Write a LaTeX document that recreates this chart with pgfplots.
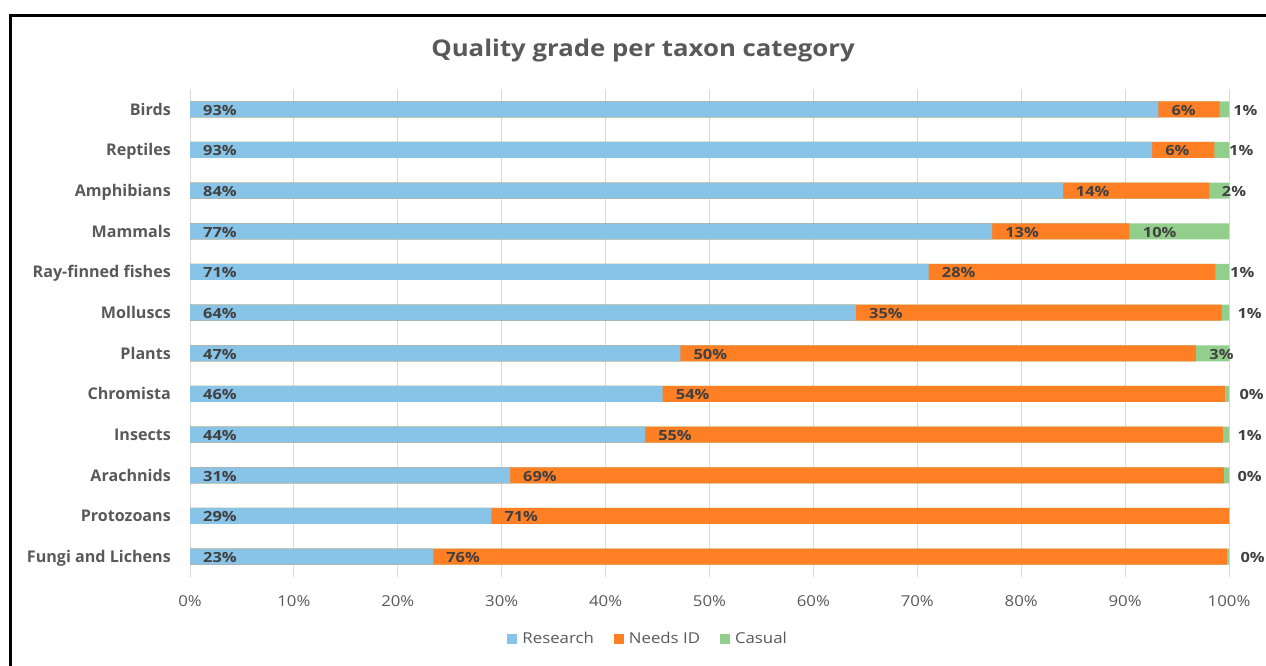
\documentclass[border=0pt]{standalone}
\usepackage{pgfplots}
\pgfplotsset{compat=1.18}
\usepackage{pgfplotstable}
\usepackage{fontspec}
\setmainfont[FakeStretch=1.12]{Open Sans}
\newfontfamily\catfont{Open Sans}
\newfontfamily\lblfont[FakeStretch=1.17]{Open Sans}

\definecolor{resblue}{HTML}{88C3E8}
\definecolor{needorange}{HTML}{FF7F24}
\definecolor{casgreen}{HTML}{93CF8C}
\definecolor{txtgray}{HTML}{595959}
\definecolor{lbldark}{HTML}{404040}
\definecolor{gridgray}{HTML}{D9D9D9}

% y: 11 = Birds (top) ... 0 = Fungi and Lichens (bottom)
% r/n/c = Research / Needs ID / Casual shares in %, rl/nl/cl = printed labels, cx = where the casual label sits
\pgfplotstableread{
y  r    n    c    rl nl cl cx
11 93.2 5.9  0.9  93 6  1  100.4
10 92.6 6.0  1.4  93 6  1  100.0
9  84.0 14.1 1.9  84 14 2  99.3
8  77.2 13.2 9.6  77 13 10 91.7
7  71.1 27.6 1.3  71 28 1  100.1
6  64.1 35.2 0.7  64 35 1  100.8
5  47.2 49.6 3.2  47 50 3  98.1
4  45.5 54.1 0.4  46 54 0  101.0
3  43.8 55.6 0.6  44 55 1  100.8
2  30.8 68.7 0.5  31 69 0  100.8
1  29.0 71.0 0.0  29 71 0  nan
0  23.4 76.4 0.2  23 76 0  101.1
}\quality

\begin{document}
\begin{tikzpicture}
\useasboundingbox (0,0) rectangle (1266pt,666pt);
\draw[line width=3pt, black] (10.5pt,0) -- (10.5pt,650.5pt) -- (1266pt,650.5pt);
\node[anchor=base, font=\fontsize{23}{27}\selectfont\bfseries, text=txtgray] at (643pt,609pt) {Quality grade per taxon category};

\begin{axis}[
	at={(190pt,89pt)}, anchor=south west,
	scale only axis,
	width=1039pt, height=488pt,
	xmin=0, xmax=100, ymin=-0.5, ymax=11.5,
	clip=false,
	axis line style={draw=none},
	major tick length=0pt,
	xtick={0,10,...,100},
	xticklabel={\pgfmathprintnumber{\tick}\%},
	xticklabel style={anchor=base, inner sep=0pt, yshift=-29.5pt, text=txtgray, font=\fontsize{15}{18}\selectfont},
	ytick={0,...,11},
	yticklabels={Fungi and Lichens, Protozoans, Arachnids, Insects, Chromista, Plants, Molluscs, Ray-finned fishes, Mammals, Amphibians, Reptiles, Birds},
	yticklabel style={anchor=base east, inner sep=0pt, xshift=-19pt, yshift=-5.7pt, text=txtgray, font=\catfont\fontsize{16.1}{19}\selectfont\bfseries},
	/pgf/number format/assume math mode=true,
	xmajorgrids, ymajorgrids=false,
	grid style={gridgray, line width=1pt},
	reverse legend,
	legend columns=-1,
	legend style={at={(0.441,-0.127)}, anchor=center, draw=none, fill=none,
		font=\fontsize{15}{18}\selectfont, text=txtgray,
		/tikz/every odd column/.append style={column sep=3pt},
		/tikz/every even column/.append style={column sep=18pt}},
	legend image code/.code={\fill[#1] (0pt,-5pt) rectangle (10pt,5pt);},
	every node near coord/.style={anchor=base west, inner sep=0pt, text=lbldark, font=\lblfont\fontsize{14}{16}\selectfont\bfseries},
]
% overlapping bars drawn from 0: total (green), research+needs (orange), research (blue)
\addplot[xbar, bar width=16pt, bar shift=0pt, draw=none, fill=casgreen]
	table[x expr=\thisrow{r}+\thisrow{n}+\thisrow{c}, y=y] {\quality};
\addplot[xbar, bar width=16pt, bar shift=0pt, draw=none, fill=needorange]
	table[x expr=\thisrow{r}+\thisrow{n}, y=y] {\quality};
\addplot[xbar, bar width=16pt, bar shift=0pt, draw=none, fill=resblue]
	table[x=r, y=y] {\quality};
\legend{Casual, Needs ID, Research}

% segment labels
\addplot[forget plot, draw=none, mark=none, point meta=explicit,
	nodes near coords={\pgfmathprintnumber{\pgfplotspointmeta}\%},
	every node near coord/.append style={xshift=13pt, yshift=-5.8pt}]
	table[x expr=0, y=y, meta=rl] {\quality};
\addplot[forget plot, draw=none, mark=none, point meta=explicit,
	nodes near coords={\pgfmathprintnumber{\pgfplotspointmeta}\%},
	every node near coord/.append style={xshift=13pt, yshift=-5.8pt}]
	table[x=r, y=y, meta=nl] {\quality};
\addplot[forget plot, draw=none, mark=none, point meta=explicit, unbounded coords=discard,
	nodes near coords={\pgfmathprintnumber{\pgfplotspointmeta}\%},
	every node near coord/.append style={yshift=-5.8pt}]
	table[x=cx, y=y, meta=cl] {\quality};
\end{axis}
\end{tikzpicture}
\end{document}
